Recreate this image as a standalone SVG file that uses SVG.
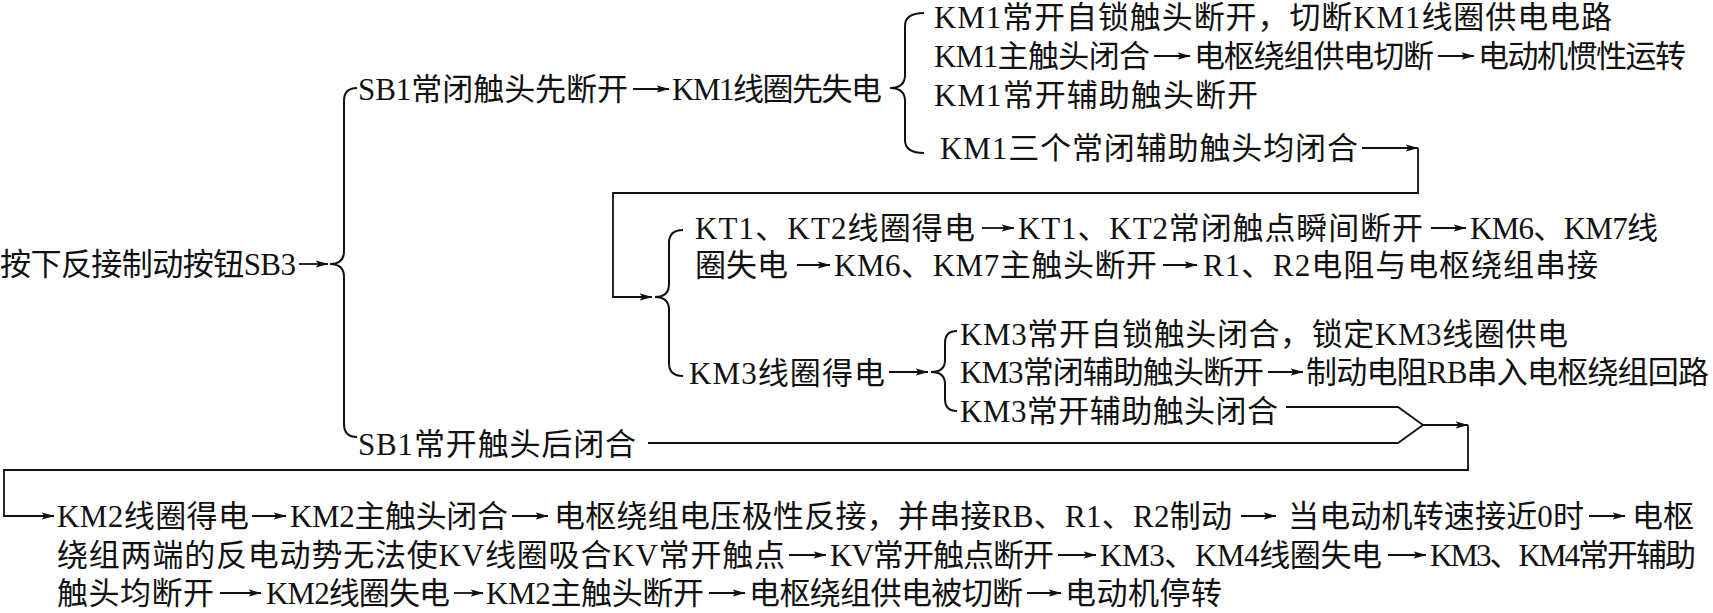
<svg xmlns="http://www.w3.org/2000/svg" width="1713" height="613" viewBox="0 0 1713 613">
<defs>
<style>
text{font-family:"Liberation Serif","Noto Sans CJK SC",serif;font-size:31px;fill:#111}
.ln{fill:none;stroke:#111;stroke-width:1.8}
.ar{fill:none;stroke:#111;stroke-width:1.8;marker-end:url(#ah)}
.br{fill:none;stroke:#111;stroke-width:2}
</style>
<marker id="ah" viewBox="0 0 13 8" markerWidth="13" markerHeight="8" refX="12.5" refY="4" orient="auto" markerUnits="userSpaceOnUse">
<path d="M0,0.4 L13,4 L0,7.6 L3,4 Z" fill="#111"/>
</marker>
</defs>
<rect width="1713" height="613" fill="#fff"/>

<g id="n-sb3"><text x="0" y="275" textLength="296">按下反接制动按钮SB3</text></g>
<g id="n-sb1-open"><text x="358" y="100" textLength="270">SB1常闭触头先断开</text></g>
<g id="n-km1-off"><text x="672" y="100" textLength="210">KM1线圈先失电</text></g>
<g id="n-km1-a"><text x="934" y="28" textLength="678">KM1常开自锁触头断开，切断KM1线圈供电电路</text></g>
<g id="n-km1-b">
<text x="934" y="67" textLength="216">KM1主触头闭合</text>
<text x="1194" y="67" textLength="240">电枢绕组供电切断</text>
<text x="1478" y="67" textLength="208">电动机惯性运转</text>
</g>
<g id="n-km1-c"><text x="934" y="106" textLength="324">KM1常开辅助触头断开</text></g>
<g id="n-km1-d"><text x="940" y="159" textLength="418">KM1三个常闭辅助触头均闭合</text></g>
<g id="n-kt">
<text x="695" y="239" textLength="280">KT1、KT2线圈得电</text>
<text x="1018" y="239" textLength="405">KT1、KT2常闭触点瞬间断开</text>
<text x="1470" y="239" textLength="188">KM6、KM7线</text>
<text x="695" y="276" textLength="93">圈失电</text>
<text x="834" y="276" textLength="323">KM6、KM7主触头断开</text>
<text x="1203" y="276" textLength="395">R1、R2电阻与电枢绕组串接</text>
</g>
<g id="n-km3"><text x="689" y="384" textLength="196">KM3线圈得电</text></g>
<g id="n-km3-a"><text x="960" y="345" textLength="608">KM3常开自锁触头闭合，锁定KM3线圈供电</text></g>
<g id="n-km3-b">
<text x="960" y="383" textLength="304">KM3常闭辅助触头断开</text>
<text x="1306" y="383" textLength="403">制动电阻RB串入电枢绕组回路</text>
</g>
<g id="n-km3-c"><text x="960" y="422" textLength="318">KM3常开辅助触头闭合</text></g>
<g id="n-sb1-close"><text x="358" y="455" textLength="278">SB1常开触头后闭合</text></g>
<g id="n-km2">
<text x="57" y="527" textLength="192">KM2线圈得电</text>
<text x="290" y="527" textLength="218">KM2主触头闭合</text>
<text x="554" y="527" textLength="678">电枢绕组电压极性反接，并串接RB、R1、R2制动</text>
<text x="1288" y="527" textLength="296">当电动机转速接近0时</text>
<text x="1632" y="527" textLength="62">电枢</text>
<text x="57" y="566" textLength="728">绕组两端的反电动势无法使KV线圈吸合KV常开触点</text>
<text x="830" y="566" textLength="224">KV常开触点断开</text>
<text x="1100" y="566" textLength="282">KM3、KM4线圈失电</text>
<text x="1430" y="566" textLength="266">KM3、KM4常开辅助</text>
<text x="57" y="604" textLength="157">触头均断开</text>
<text x="266" y="604" textLength="184">KM2线圈失电</text>
<text x="486" y="604" textLength="218">KM2主触头断开</text>
<text x="749" y="604" textLength="274">电枢绕组供电被切断</text>
<text x="1065" y="604" textLength="157">电动机停转</text>
</g>

<g id="connectors">
<path class="br" d="M357,88 Q344,88 344,101 L344,251 Q344,264 330,264 Q344,264 344,277 L344,424 Q344,437 357,437"/>
<path class="br" d="M924,13 Q905,13 905,26 L905,75 Q905,88 890,88 Q905,88 905,101 L905,140 Q905,153 924,153"/>
<path class="br" d="M683,230 Q669,230 669,243 L669,284 Q669,297 655,297 Q669,297 669,310 L669,363 Q669,376 683,376"/>
<path class="br" d="M957,331 Q945,331 945,343 L945,360 Q945,372 931,372 Q945,372 945,384 L945,399 Q945,411 957,411"/>
<line class="ar" x1="299" y1="264" x2="328" y2="264"/>
<line class="ar" x1="633" y1="89" x2="669" y2="89"/>
<line class="ar" x1="1154" y1="56" x2="1190" y2="56"/>
<line class="ar" x1="1438" y1="56" x2="1474" y2="56"/>
<line class="ar" x1="1362" y1="148" x2="1418" y2="148"/>
<path class="ar" d="M1418,148 V193 H613 V297 H652"/>
<line class="ar" x1="982" y1="228" x2="1014" y2="228"/>
<line class="ar" x1="1431" y1="228" x2="1466" y2="228"/>
<line class="ar" x1="797" y1="265" x2="830" y2="265"/>
<line class="ar" x1="1163" y1="265" x2="1197" y2="265"/>
<line class="ar" x1="889" y1="372" x2="928" y2="372"/>
<line class="ar" x1="1268" y1="372" x2="1303" y2="372"/>
<path class="ln" d="M1286,407 H1398 L1423,425"/>
<path class="ln" d="M648,443 H1398 L1423,425"/>
<line class="ar" x1="1423" y1="425" x2="1468" y2="425"/>
<path class="ar" d="M1468,425 V470 H4 V516 H54"/>
<line class="ar" x1="252" y1="516" x2="286" y2="516"/>
<line class="ar" x1="512" y1="516" x2="548" y2="516"/>
<line class="ar" x1="1241" y1="516" x2="1276" y2="516"/>
<line class="ar" x1="1589" y1="516" x2="1625" y2="516"/>
<line class="ar" x1="789" y1="555" x2="826" y2="555"/>
<line class="ar" x1="1058" y1="555" x2="1096" y2="555"/>
<line class="ar" x1="1388" y1="555" x2="1426" y2="555"/>
<line class="ar" x1="220" y1="593" x2="261" y2="593"/>
<line class="ar" x1="454" y1="593" x2="483" y2="593"/>
<line class="ar" x1="709" y1="593" x2="745" y2="593"/>
<line class="ar" x1="1027" y1="593" x2="1061" y2="593"/>
</g>
</svg>
